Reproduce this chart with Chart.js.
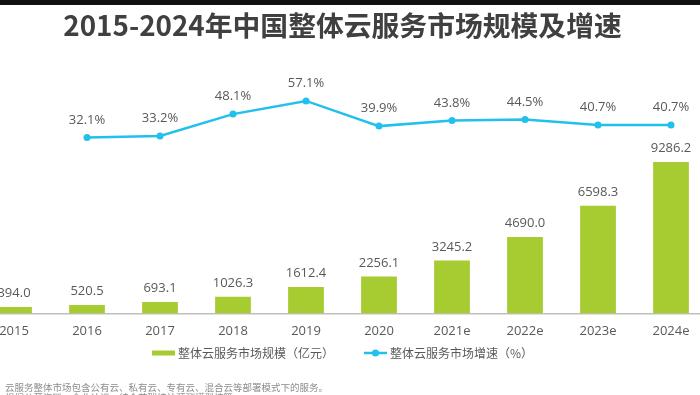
<!DOCTYPE html>
<html>
<head>
<meta charset="utf-8">
<script src="https://cdn.jsdelivr.net/npm/chart.js@4.4.1/dist/chart.umd.min.js"></script>
<style>
  html, body { margin: 0; padding: 0; background: #fff; width: 700px; height: 395px; overflow: hidden; }
  #topbar { position: absolute; left: 0; top: 0; width: 700px; height: 5px; background: #111; }
  #wrap { position: absolute; left: -30px; top: 0; width: 760px; height: 395px; }
  .note { position: absolute; left: 5px; font: 9.5px "Noto Sans CJK SC", sans-serif; color: #8c8c8c; line-height: 11px; white-space: nowrap; }
</style>
</head>
<body>
<div id="topbar"></div>
<div id="wrap"><canvas id="cloud" width="760" height="395"></canvas></div>
<div class="note" style="top:382px">云服务整体市场包含公有云、私有云、专有云、混合云等部署模式下的服务。</div>
<div class="note" style="top:392px">根据公开资料、企业访谈，结合艾瑞统计预测模型核算。</div>
<script>
const years = ["2015", "2016", "2017", "2018", "2019", "2020", "2021e", "2022e", "2023e", "2024e"];
const marketSize = [394.0, 520.5, 693.1, 1026.3, 1612.4, 2256.1, 3245.2, 4690.0, 6598.3, 9286.2];
const growthRate = [null, 32.1, 33.2, 48.1, 57.1, 39.9, 43.8, 44.5, 40.7, 40.7];

const barColor = "#a6cc32";
const lineColor = "#22c0ec";
const textColor = "#595959";

// draws the value labels above bars and points
const valueLabels = {
  id: "valueLabels",
  afterDatasetsDraw(chart) {
    const ctx = chart.ctx;
    ctx.save();
    ctx.fillStyle = textColor;
    ctx.font = "13px 'Open Sans', sans-serif";
    ctx.textAlign = "center";
    ctx.textBaseline = "bottom";
    chart.getDatasetMeta(0).data.forEach(function(bar, i) {
      ctx.fillText(marketSize[i].toFixed(1), bar.x, bar.y - 7);
    });
    chart.getDatasetMeta(1).data.forEach(function(pt, i) {
      if (growthRate[i] == null) return;
      ctx.fillText(growthRate[i].toFixed(1) + "%", pt.x, pt.y - 11);
    });
    ctx.restore();
  }
};

// legend row under the axis: bar swatch, then line with dot
const legendRow = {
  id: "legendRow",
  afterDraw(chart) {
    const ctx = chart.ctx;
    const sets = chart.data.datasets;
    const y = 353;
    const sym = 23, gapText = 3, gapItem = 30;
    ctx.save();
    ctx.font = "12px 'Noto Sans CJK SC', sans-serif";
    ctx.textBaseline = "middle";
    ctx.textAlign = "left";
    const widths = sets.map(function(ds) { return sym + gapText + ctx.measureText(ds.label).width; });
    const total = widths[0] + widths[1] + gapItem;
    let x = (chart.chartArea.left + chart.chartArea.right) / 2 - total / 2;
    sets.forEach(function(ds, i) {
      if (ds.type === "bar") {
        ctx.fillStyle = ds.backgroundColor;
        ctx.fillRect(x, y - 2.5, sym, 5);
      } else {
        ctx.strokeStyle = ds.borderColor;
        ctx.lineWidth = 2.5;
        ctx.beginPath();
        ctx.moveTo(x, y);
        ctx.lineTo(x + sym, y);
        ctx.stroke();
        ctx.fillStyle = ds.borderColor;
        ctx.beginPath();
        ctx.arc(x + sym / 2, y, 3.5, 0, Math.PI * 2);
        ctx.fill();
      }
      ctx.fillStyle = textColor;
      ctx.fillText(ds.label, x + sym + gapText, y);
      x += widths[i] + gapItem;
    });
    ctx.restore();
  }
};

new Chart("cloud", {
  type: "bar",
  data: {
    labels: years,
    datasets: [{
      type: "bar",
      label: "整体云服务市场规模（亿元）",
      data: marketSize,
      backgroundColor: barColor,
      barPercentage: 0.7,
      categoryPercentage: 0.7,
      yAxisID: "y",
      order: 2
    }, {
      type: "line",
      label: "整体云服务市场增速（%）",
      data: growthRate,
      borderColor: lineColor,
      backgroundColor: lineColor,
      borderWidth: 2.5,
      pointRadius: 3.5,
      pointBackgroundColor: lineColor,
      pointBorderWidth: 0,
      tension: 0,
      yAxisID: "y1",
      order: 1
    }]
  },
  options: {
    responsive: false,
    animation: false,
    devicePixelRatio: 1,
    layout: { padding: { left: 7.5, right: 22.5, top: 0, bottom: 46 } },
    plugins: {
      title: {
        display: true,
        text: "2015-2024年中国整体云服务市场规模及增速",
        color: "#404040",
        font: { family: "'Noto Sans CJK SC', sans-serif", size: 27.8, weight: "bold" },
        padding: { top: 9, bottom: 26.5 }
      },
      legend: { display: false },
      tooltip: { enabled: false }
    },
    scales: {
      x: {
        grid: { display: false, drawTicks: false },
        border: { display: true, color: "#bfbfbf", width: 1.5 },
        ticks: { color: textColor, font: { family: "'Open Sans', sans-serif", size: 13 }, padding: 10 }
      },
      y: { display: false, min: 0, max: 15000 },
      y1: { display: false, min: -88, max: 79 }
    }
  },
  plugins: [valueLabels, legendRow]
});
</script>
</body>
</html>
